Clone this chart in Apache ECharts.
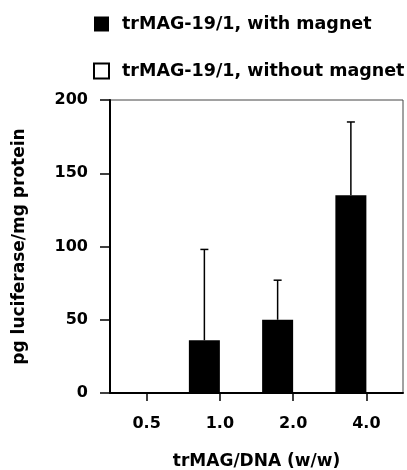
<!DOCTYPE html>
<html>
<head>
<meta charset="utf-8">
<script src="https://cdn.jsdelivr.net/npm/echarts@6/dist/echarts.min.js"></script>
<style>
  html, body { margin: 0; padding: 0; background: #fff; }
  #chart { width: 407px; height: 470px; }
</style>
</head>
<body>
<div id="chart"></div>
<script>
// trMAG/DNA ratios on the x axis
const ratios = ['0.5', '1.0', '2.0', '4.0'];
// Mean luciferase expression with magnet, and the upper end of its error bar
const withMagnet = [0, 36, 50, 135];
const withMagnetUpper = [null, 98, 77, 185];
// Expression without magnet
const withoutMagnet = [0, 0, 0, 0];

const FONT = '"DejaVu Sans", Arial, sans-serif';
const BAR_W = 31;
const boldText = (size) => ({ fontFamily: FONT, fontWeight: 'bold', fontSize: size, color: '#000' });

const chart = echarts.init(document.getElementById('chart'), null, { renderer: 'canvas' });

chart.setOption({
  animation: false,
  textStyle: { fontFamily: FONT },
  grid: {
    left: 110, top: 100, width: 293, height: 293,
    outerBoundsMode: 'none',
    containLabel: false,
    show: true, borderColor: '#444', borderWidth: 1
  },
  legend: {
    orient: 'vertical',
    left: 88, top: 10,
    itemWidth: 15, itemHeight: 15,
    itemGap: 29,
    icon: 'rect',
    selectedMode: false,
    textStyle: Object.assign(boldText(17.5), { padding: [4, 0, 0, 8] }),
    data: ['trMAG-19/1, with magnet', 'trMAG-19/1, without magnet']
  },
  xAxis: {
    type: 'category',
    data: ratios,
    name: 'trMAG/DNA (w/w)',
    nameLocation: 'middle',
    nameGap: 60,
    nameTextStyle: boldText(17),
    axisLine: { show: true, lineStyle: { color: '#000', width: 2 } },
    axisTick: { show: true, inside: false, alignWithLabel: true, length: 8, lineStyle: { color: '#000', width: 1.5 } },
    axisLabel: Object.assign(boldText(16), { margin: 23 }),
    splitLine: { show: false }
  },
  yAxis: {
    type: 'value',
    min: 0, max: 200, interval: 50,
    name: 'pg luciferase/mg protein',
    nameLocation: 'middle',
    nameGap: 82,
    nameTextStyle: boldText(17),
    axisLine: { show: true, lineStyle: { color: '#000', width: 2 } },
    axisTick: { show: true, inside: false, length: 10, lineStyle: { color: '#000', width: 1.5 } },
    axisLabel: Object.assign(boldText(16), { margin: 22 }),
    splitLine: { show: false }
  },
  series: [
    {
      name: 'trMAG-19/1, with magnet',
      type: 'bar',
      data: withMagnet,
      barWidth: BAR_W,
      barGap: '0%',
      itemStyle: { color: '#000' },
      z: 3
    },
    {
      name: 'trMAG-19/1, without magnet',
      type: 'bar',
      data: withoutMagnet,
      barWidth: BAR_W,
      barGap: '0%',
      itemStyle: { color: '#fff', borderColor: '#000', borderWidth: 1 },
      z: 3
    },
    {
      // upper error bars over the "with magnet" bars
      name: 'error',
      type: 'custom',
      data: ratios.map((r, i) => [i, withMagnet[i], withMagnetUpper[i]]),
      z: 4,
      renderItem: function (params, api) {
        const upper = api.value(2);
        if (upper == null || isNaN(upper)) return null;
        const base = api.coord([api.value(0), api.value(1)]);
        const top = api.coord([api.value(0), upper]);
        const x = base[0] - BAR_W / 2;
        const cap = 4;
        const style = { stroke: '#000', lineWidth: 1.5 };
        return {
          type: 'group',
          children: [
            { type: 'line', shape: { x1: x, y1: base[1], x2: x, y2: top[1] }, style: style },
            { type: 'line', shape: { x1: x - cap, y1: top[1], x2: x + cap, y2: top[1] }, style: style }
          ]
        };
      }
    }
  ]
});
</script>
</body>
</html>
